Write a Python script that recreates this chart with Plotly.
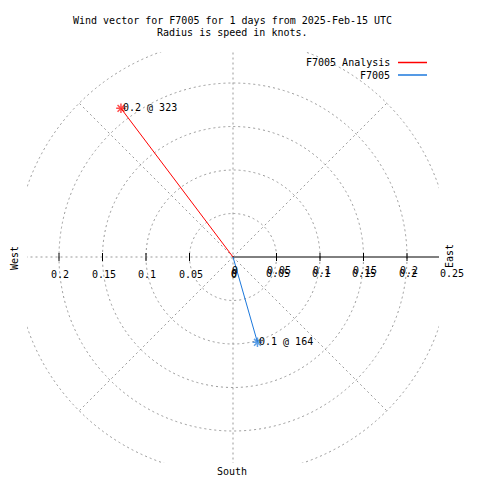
import numpy as np
import plotly.graph_objects as go

# ---------------- data ----------------
series_names = ["F7005 Analysis", "F7005"]
speeds = [0.214, 0.102]          # knots
directions = [323, 164]          # degrees, clockwise from north
point_labels = ["0.2 @ 323", "0.1 @ 164"]
series_colors = ["#ff0000", "#1c78dc"]

ring_values = [0.05, 0.1, 0.15, 0.2, 0.25]
spoke_angles = [45, 135, 225, 315]
left_tick_values = [-0.2, -0.15, -0.1, -0.05, 0]
left_tick_labels = ["0.2", "0.15", "0.1", "0.05", "0"]
right_tick_values = [0, 0.05, 0.1, 0.15, 0.2, 0.25]
right_tick_labels = ["0", "0.05", "0.1", "0.15", "0.2", "0.25"]
compass_labels = ["West", "East", "South"]
title_lines = ["Wind vector for F7005 for 1 days from 2025-Feb-15 UTC",
               "Radius is speed in knots."]

# ---------------- layout geometry ----------------
OFF = 8                      # page body margin of the browser
W = H = 480
box_l, box_r, box_t, box_b = 27, 439, 52, 463   # target pixel box
L = box_l - OFF
T = box_t - OFF
R = W - (box_r - OFF)
B = H - (box_b - OFF)
PX_PER_UNIT = 870.0
cx_pix, cy_pix = 233, 257
xr = [-(cx_pix - box_l) / PX_PER_UNIT, (box_r - cx_pix) / PX_PER_UNIT]
yr = [-(box_b - cy_pix) / PX_PER_UNIT, (cy_pix - box_t) / PX_PER_UNIT]

FONT = "DejaVu Sans Mono"
GRID = "#999999"
DASH = "2px,3px"


def px(p):
    return (p - box_l) / (box_r - box_l)


def py(p):
    return (box_b - p) / (box_b - box_t)


def data_to_paper_x(v):
    return (v - xr[0]) / (xr[1] - xr[0])


def data_to_paper_y(v):
    return (v - yr[0]) / (yr[1] - yr[0])


fig = go.Figure()
shapes = []
annotations = []
gfont = dict(family=FONT, size=10, color="black")

# rings
for r in ring_values:
    shapes.append(dict(type="circle", xref="x", yref="y", x0=-r, x1=r, y0=-r, y1=r,
                       line=dict(color=GRID, width=1, dash=DASH), layer="below"))
# diagonal spokes
rmax = max(ring_values)
for a in spoke_angles:
    t = np.deg2rad(a)
    shapes.append(dict(type="line", xref="x", yref="y", x0=0, y0=0,
                       x1=rmax * np.sin(t), y1=rmax * np.cos(t),
                       line=dict(color=GRID, width=1, dash=DASH), layer="below"))
# vertical spoke
shapes.append(dict(type="line", xref="x", yref="y", x0=0, x1=0, y0=-rmax, y1=rmax,
                   line=dict(color=GRID, width=1, dash=DASH), layer="below"))
# left horizontal dashed
shapes.append(dict(type="line", xref="x", yref="y", x0=-rmax, x1=0, y0=0, y1=0,
                   line=dict(color=GRID, width=1, dash=DASH), layer="below"))
# right solid axis
shapes.append(dict(type="line", xref="x", yref="y", x0=0, x1=rmax, y0=0, y1=0,
                   line=dict(color="black", width=1), layer="below"))
# tick marks
tk = 4 / PX_PER_UNIT
for v in left_tick_values[:-1] + right_tick_values[1:-1]:
    shapes.append(dict(type="line", xref="x", yref="y", x0=v, x1=v, y0=-tk, y1=tk,
                       line=dict(color="black", width=1), layer="below"))


def add_label(v, s, yshift, xshift):
    annotations.append(dict(x=data_to_paper_x(v), y=data_to_paper_y(0),
                            xref="paper", yref="paper", text=s, showarrow=False,
                            xanchor="center", yanchor="middle",
                            yshift=yshift, xshift=xshift, font=gfont))


# tick labels
for v, s in zip(left_tick_values, left_tick_labels):
    add_label(v, s, -17, 1)
for v, s in zip(right_tick_values, right_tick_labels):
    add_label(v, s, -16, 1)
    if v < 0.25:
        add_label(v, s, -13, 2)

# compass labels
annotations.append(dict(x=px(14), y=py(258), xref="paper", yref="paper", text=compass_labels[0],
                        xanchor="center", yanchor="middle",
                        showarrow=False, textangle=-90, font=gfont))
annotations.append(dict(x=px(450), y=py(256), xref="paper", yref="paper", text=compass_labels[1],
                        xanchor="center", yanchor="middle",
                        showarrow=False, textangle=-90, font=gfont))
annotations.append(dict(x=px(232), y=py(471), xref="paper", yref="paper", text=compass_labels[2],
                        xanchor="center", yanchor="middle",
                        showarrow=False, font=gfont))

# title
for line, yp in zip(title_lines, [20, 33]):
    annotations.append(dict(x=px(232), y=py(yp), xref="paper", yref="paper", text=line,
                            xanchor="center", yanchor="middle",
                            showarrow=False, font=gfont))

# vectors
for name, s, d, lab, c in zip(series_names, speeds, directions, point_labels, series_colors):
    t = np.deg2rad(d)
    ex, ey = s * np.sin(t), s * np.cos(t)
    fig.add_trace(go.Scatter(x=[0, ex], y=[0, ey], mode="lines+markers", name=name,
                             line=dict(color=c, width=1),
                             marker=dict(symbol="asterisk", size=[0, 8],
                                         line=dict(color=c, width=1.5), color=c),
                             showlegend=False, cliponaxis=False))
    annotations.append(dict(x=ex, y=ey, xref="x", yref="y", text=lab, showarrow=False,
                            xanchor="left", yanchor="middle", xshift=0, yshift=1, font=gfont))

# custom legend (text then line sample, gnuplot style)
for i, (name, c) in enumerate(zip(series_names, series_colors)):
    yy = [63, 75.5][i]
    annotations.append(dict(x=px(392), y=py(yy), xref="paper", yref="paper", text=name,
                            xanchor="right", yanchor="middle", showarrow=False, font=gfont))
    shapes.append(dict(type="line", xref="paper", yref="paper", x0=px(398), x1=px(427),
                       y0=py(yy - 0.5), y1=py(yy - 0.5), line=dict(color=c, width=1.5)))

fig.update_layout(
    width=W, height=H,
    margin=dict(l=L, r=R, t=T, b=B),
    paper_bgcolor="white", plot_bgcolor="white",
    xaxis=dict(range=xr, visible=False, showgrid=False, zeroline=False, fixedrange=True),
    yaxis=dict(range=yr, visible=False, showgrid=False, zeroline=False, fixedrange=True),
    shapes=shapes, annotations=annotations, showlegend=False,
)

fig.write_html("out.html")
